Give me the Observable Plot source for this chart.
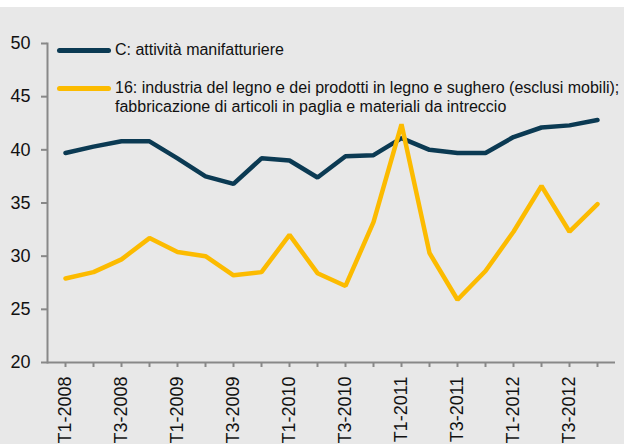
<!DOCTYPE html>
<html>
<head>
<meta charset="utf-8">
<script src="https://cdn.jsdelivr.net/npm/d3@7"></script>
<script src="https://cdn.jsdelivr.net/npm/@observablehq/plot@0.6"></script>
<style>
  html, body { margin: 0; padding: 0; background: #ffffff; overflow: hidden; }
  #wrap { position: relative; width: 624px; height: 437px; margin-top: 7px; background: #e8e8e8; font-family: Arial, "Liberation Sans", Helvetica, sans-serif; }
  #legend { position: absolute; left: 0; top: 0; width: 624px; pointer-events: none; }
  .item { position: absolute; left: 57px; display: flex; align-items: flex-start; }
  .sw { width: 54px; height: 4.5px; border-radius: 3px; margin-top: 8px; margin-right: 4px; }
  .lbl { font-size: 16px; line-height: 19px; color: #111; }
  svg { display: block; }
</style>
</head>
<body>
<div id="wrap"><div id="chart"></div><div id="legend"></div></div>
<script>
const quarters = ["T1-2008","T2-2008","T3-2008","T4-2008","T1-2009","T2-2009","T3-2009","T4-2009","T1-2010","T2-2010","T3-2010","T4-2010","T1-2011","T2-2011","T3-2011","T4-2011","T1-2012","T2-2012","T3-2012","T4-2012"];
const seriesNames = ["C: attività manifatturiere", "16: industria del legno e dei prodotti in legno e sughero (esclusi mobili); fabbricazione di articoli in paglia e materiali da intreccio"];
const legendLines = [["C: attività manifatturiere"], ["16: industria del legno e dei prodotti in legno e sughero (esclusi mobili);", "fabbricazione di articoli in paglia e materiali da intreccio"]];
const manifatturiere = [39.7, 40.3, 40.8, 40.8, 39.2, 37.5, 36.8, 39.2, 39.0, 37.4, 39.4, 39.5, 41.1, 40.0, 39.7, 39.7, 41.2, 42.1, 42.3, 42.8];
const legno = [27.9, 28.5, 29.7, 31.7, 30.4, 30.0, 28.2, 28.5, 32.0, 28.4, 27.2, 33.2, 42.4, 30.3, 25.9, 28.6, 32.3, 36.6, 32.3, 34.9];
const yTicks = [20, 25, 30, 35, 40, 45, 50];
const colors = ["#0b3a53", "#fcbb00"];

const data = [];
quarters.forEach((q, i) => {
  data.push({quarter: q, value: manifatturiere[i], series: seriesNames[0]});
  data.push({quarter: q, value: legno[i], series: seriesNames[1]});
});

const chart = Plot.plot({
  width: 624,
  height: 437,
  marginLeft: 47,
  marginRight: 9,
  marginTop: 36,
  marginBottom: 82,
  style: {background: "transparent", fontFamily: "Arial, 'Liberation Sans', Helvetica, sans-serif", fontSize: "18px", color: "#111"},
  x: {type: "band", domain: quarters, padding: 0},
  y: {domain: [20, 50]},
  color: {domain: seriesNames, range: colors},
  marks: [
    Plot.axisY({ticks: yTicks, tickSize: 6, tickPadding: 11, label: null, stroke: "#888", strokeWidth: 2, fontSize: 18}),
    Plot.axisX({tickSize: 5, tickPadding: 9, tickRotate: -90, label: null, stroke: "#888", strokeWidth: 2, fontSize: 18,
      tickFormat: (d, i) => (d.startsWith("T1") || d.startsWith("T3")) ? d : ""}),
    Plot.ruleY([20], {stroke: "#888", strokeWidth: 2}),
    Plot.frame({anchor: "left", stroke: "#888", strokeWidth: 2}),
    Plot.lineY(data, {x: "quarter", y: "value", z: "series", stroke: "series", strokeWidth: 4.5, strokeLinejoin: "miter", strokeLinecap: "round"})
  ]
});
document.getElementById("chart").appendChild(chart);

const legend = document.getElementById("legend");
const tops = [40, 78];
legendLines.forEach((lines, i) => {
  const item = document.createElement("div");
  item.className = "item";
  item.style.top = (tops[i] - 7) + "px";
  const sw = document.createElement("div");
  sw.className = "sw";
  sw.style.background = colors[i];
  const lbl = document.createElement("div");
  lbl.className = "lbl";
  lbl.innerHTML = lines.join("<br>");
  item.appendChild(sw);
  item.appendChild(lbl);
  legend.appendChild(item);
});
</script>
</body>
</html>
